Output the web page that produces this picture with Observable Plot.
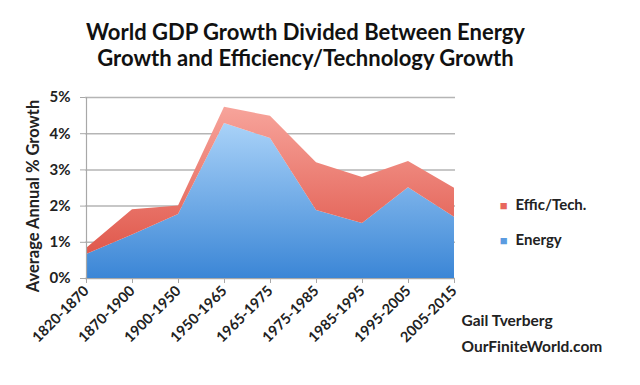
<!DOCTYPE html>
<html><head><meta charset="utf-8">
<script src="https://cdn.jsdelivr.net/npm/d3@7"></script>
<script src="https://cdn.jsdelivr.net/npm/@observablehq/plot@0.6"></script>
<style>
body{margin:0;background:#fff;}
svg{font-family:Lato,"Open Sans",sans-serif;}
</style></head>
<body><div id="chart"></div>
<script>
const periods = ["1820-1870","1870-1900","1900-1950","1950-1965","1965-1975","1975-1985","1985-1995","1995-2005","2005-2015"];
const energy = [0.66,1.20,1.77,4.28,3.87,1.88,1.52,2.51,1.69];
const efficTech = [0.17,0.70,0.23,0.45,0.61,1.32,1.27,0.72,0.80];
const seriesNames = ["Energy","Effic/Tech."];
const yTicks = [0,1,2,3,4,5];
const titleLines = ["World GDP Growth Divided Between Energy","Growth and Efficiency/Technology Growth"];
const yLabel = "Average Annual % Growth";
const credits = ["Gail Tverberg","OurFiniteWorld.com"];

const data = [];
periods.forEach((p,i)=>data.push({period:p, series:"Energy", value:energy[i]}));
periods.forEach((p,i)=>data.push({period:p, series:"Effic/Tech.", value:efficTech[i]}));

const defs = () => {
  const d = d3.create("svg:defs");
  const gb = d.append("linearGradient").attr("id","gBlue").attr("x1",0).attr("y1",0).attr("x2",0).attr("y2",1);
  gb.append("stop").attr("offset","0%").attr("stop-color","#a9d2f8");
  gb.append("stop").attr("offset","100%").attr("stop-color","#3b86d6");
  const gr = d.append("linearGradient").attr("id","gRed").attr("x1",0).attr("y1",0).attr("x2",0).attr("y2",1);
  gr.append("stop").attr("offset","0%").attr("stop-color","#f7a49b");
  gr.append("stop").attr("offset","100%").attr("stop-color","#e0584c");
  return d.node();
};

const legendItems = [{name:"Effic/Tech.", color:"#e8675d", dy:-69},{name:"Energy", color:"#5b9be0", dy:-34}];
const legendMarks = legendItems.flatMap(it => [
  Plot.text([it.name], {text:()=>"■", frameAnchor:"bottom-right", dx:52, dy:it.dy, fill:it.color, fontSize:13}),
  Plot.text([it.name], {frameAnchor:"bottom-right", textAnchor:"start", dx:60, dy:it.dy, fill:"#222", fontSize:15, fontWeight:"bold"})
]);

const chart = Plot.plot({
  width:640, height:385,
  marginLeft:85, marginRight:185, marginTop:97, marginBottom:107,
  style:{fontFamily:"Lato, 'Open Sans', sans-serif", background:"#fff"},
  x:{type:"point", domain:periods, padding:0, label:null},
  y:{domain:[0,5], label:null},
  color:{domain:seriesNames, range:["url(#gBlue)","url(#gRed)"]},
  marks:[
    defs,
    Plot.gridY(yTicks, {stroke:"#b5b5b5", strokeOpacity:1, strokeWidth:1.5}),
    Plot.areaY(data, {x:"period", y:"value", fill:"series"}),
    Plot.ruleX([periods[0]], {stroke:"#a8a8a8", strokeWidth:1.2}),
    Plot.ruleY([0], {stroke:"#a8a8a8", strokeWidth:1.2}),
    Plot.axisY(yTicks, {tickFormat:d=>d+"%", tickSize:5, tickPadding:10, stroke:"#a8a8a8", fill:"#222", fontSize:15, fontWeight:"bold", label:null}),
    Plot.axisX(periods, {tickSize:5, tickRotate:-45, stroke:"#a8a8a8", fill:"#222", fontSize:14.5, fontWeight:"bold", tickPadding:5, label:null}),
    Plot.text([yLabel], {frameAnchor:"left", textAnchor:"middle", rotate:-90, dx:-52, dy:8, fontSize:16.5, fontWeight:"bold", fill:"#222"}),
    Plot.text([titleLines[0]], {frameAnchor:"top", dx:35, dy:-73, fontSize:22, fontWeight:"bold", fill:"#111"}),
    Plot.text([titleLines[1]], {frameAnchor:"top", dx:35, dy:-47, fontSize:22, fontWeight:"bold", fill:"#111"}),
    ...legendMarks,
    Plot.text([credits[0]], {frameAnchor:"bottom-right", textAnchor:"start", dx:6, dy:47, fontSize:15.5, fontWeight:"bold", fill:"#222"}),
    Plot.text([credits[1]], {frameAnchor:"bottom-right", textAnchor:"start", dx:6, dy:73, fontSize:15.5, fontWeight:"bold", fill:"#222"})
  ]
});
document.getElementById("chart").append(chart);
</script></body></html>
